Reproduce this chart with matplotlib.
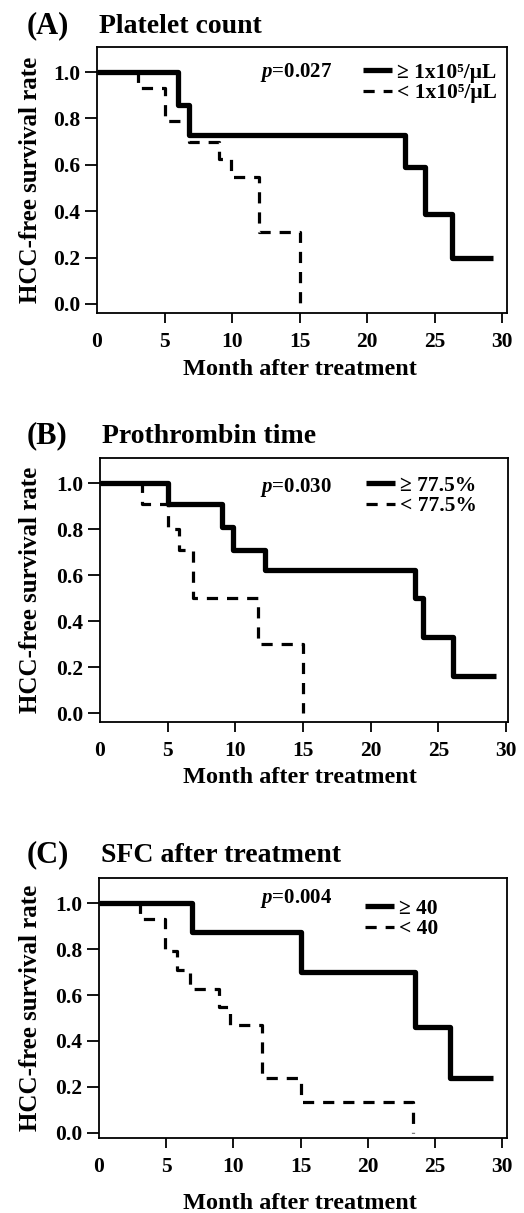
# -*- coding: utf-8 -*-
"""
HCC-free survival curves (Kaplan-Meier style), three panels
"""

import matplotlib
matplotlib.use('Agg')
import matplotlib.pyplot as plt

# %% Data

# (A) Platelet count
a_hi_t = [0, 6.0, 6.8, 22.8, 24.3, 26.3, 29.3]
a_hi_s = [1.0, 0.86, 0.73, 0.59, 0.39, 0.20, 0.20]
a_lo_t = [0, 3.0, 5.0, 6.8, 9.0, 9.9, 12.0, 15.0]
a_lo_s = [1.0, 0.93, 0.79, 0.70, 0.625, 0.547, 0.31, 0.0]

# (B) Prothrombin time
b_hi_t = [0, 5.0, 9.0, 9.85, 12.2, 23.3, 23.9, 26.1, 29.3]
b_hi_s = [1.0, 0.91, 0.81, 0.71, 0.62, 0.50, 0.33, 0.16, 0.16]
b_lo_t = [0, 3.1, 5.0, 5.85, 6.9, 11.7, 15.0]
b_lo_s = [1.0, 0.91, 0.80, 0.71, 0.50, 0.30, 0.0]

# (C) SFC after treatment
c_hi_t = [0, 6.9, 15.0, 23.5, 26.1, 29.3]
c_hi_s = [1.0, 0.875, 0.70, 0.46, 0.24, 0.24]
c_lo_t = [0, 3.05, 4.9, 5.8, 6.8, 8.9, 9.75, 12.1, 15.0, 23.4]
c_lo_s = [1.0, 0.93, 0.79, 0.71, 0.625, 0.55, 0.47, 0.24, 0.135, 0.0]

tags = ['(A)', '(B)', '(C)']
titles = ['Platelet count', 'Prothrombin time', 'SFC after treatment']
pvals = ['0.027', '0.030', '0.004']
hi_labels = ['\u2265 1x10\u2075/\u03bcL', '\u2265 77.5%', '\u2265 40']
lo_labels = ['< 1x10\u2075/\u03bcL', '< 77.5%', '< 40']
xticks = [0, 5, 10, 15, 20, 25, 30]
yticks = [0.0, 0.2, 0.4, 0.6, 0.8, 1.0]

# %% Style

plt.rcParams['font.family'] = ['Liberation Serif', 'DejaVu Serif']
plt.rcParams['font.weight'] = 'bold'
plt.rcParams['mathtext.fontset'] = 'custom'
plt.rcParams['mathtext.it'] = 'Liberation Serif:italic:bold'
plt.rcParams['mathtext.rm'] = 'Liberation Serif:bold'

W, H = 524, 1213
fig = plt.figure(figsize=(W / 100, H / 100), dpi=100)

def fx(x):
    return x / W

def fy(y):
    return 1 - y / H

# pixel layout per panel: box (l, t, r, b), ylim, xlim, title baseline,
# xlabel baseline, p-value centre y, legend centre y
layout = [
    dict(box=(97, 47, 507, 313), ylim=(-0.039, 1.108), xlim=(0, 30.37),
         tb=33, xb=375, py=72, ly=83, lx=363),
    dict(box=(100, 458, 508, 722), ylim=(-0.039, 1.109), xlim=(0, 30.15),
         tb=443, xb=783, py=488, ly=496, lx=366),
    dict(box=(99, 878, 507, 1138), ylim=(-0.022, 1.109), xlim=(0, 30.37),
         tb=862, xb=1209, py=898, ly=919, lx=365),
]

curves = [(a_hi_t, a_hi_s, a_lo_t, a_lo_s),
          (b_hi_t, b_hi_s, b_lo_t, b_lo_s),
          (c_hi_t, c_hi_s, c_lo_t, c_lo_s)]

# %% Draw panels

for i, lay in enumerate(layout):
    l, t, r, b = lay['box']
    ax = fig.add_axes([fx(l), fy(b), (r - l) / W, (b - t) / H])
    hi_t, hi_s, lo_t, lo_s = curves[i]

    lo_line, = ax.step(lo_t, lo_s, where='post', color='black', lw=2.3,
                       linestyle=(0, (3.5, 2.8)), dash_capstyle='butt',
                       label=lo_labels[i])
    hi_line, = ax.step(hi_t, hi_s, where='post', color='black', lw=3.8,
                       solid_capstyle='butt', label=hi_labels[i])

    ax.set_xlim(*lay['xlim'])
    ax.set_ylim(*lay['ylim'])
    ax.set_xticks(xticks)
    ax.set_yticks(yticks)
    ax.set_yticklabels(['%.1f' % v for v in yticks])
    for sp in ax.spines.values():
        sp.set_linewidth(1.3)
    ax.tick_params(axis='y', direction='out', length=8.5, width=1.3,
                   labelsize=15.5, pad=3.5)
    ax.tick_params(axis='x', direction='out', length=7.5, width=1.3,
                   labelsize=15.5, pad=6)
    ax.xaxis.get_major_ticks()[0].tick1line.set_visible(False)

    ax.legend(handles=[hi_line, lo_line], loc='center left',
              bbox_to_anchor=(fx(lay['lx']), fy(lay['ly'])),
              bbox_transform=fig.transFigure, frameon=False,
              fontsize=15.5, handlelength=1.35, handletextpad=0.25,
              labelspacing=0.0, borderpad=0, borderaxespad=0)

    fig.text(fx(332), fy(lay['py']), '$p$=' + pvals[i], fontsize=15,
             ha='right', va='center')

    # panel tag and title
    fig.text(fx(27), fy(lay['tb']), tags[i], fontsize=22, va='baseline')
    fig.text(fx(l + 2), fy(lay['tb']), titles[i], fontsize=20, va='baseline')

    # axis labels
    fig.text(fx(37), fy((t + b) / 2), 'HCC-free survival rate', fontsize=18,
             rotation=90, rotation_mode='anchor', ha='center', va='baseline')
    fig.text(fx(300), fy(lay['xb']), 'Month after treatment', fontsize=17.5,
             ha='center', va='baseline')

fig.savefig('out.png', dpi=100)
